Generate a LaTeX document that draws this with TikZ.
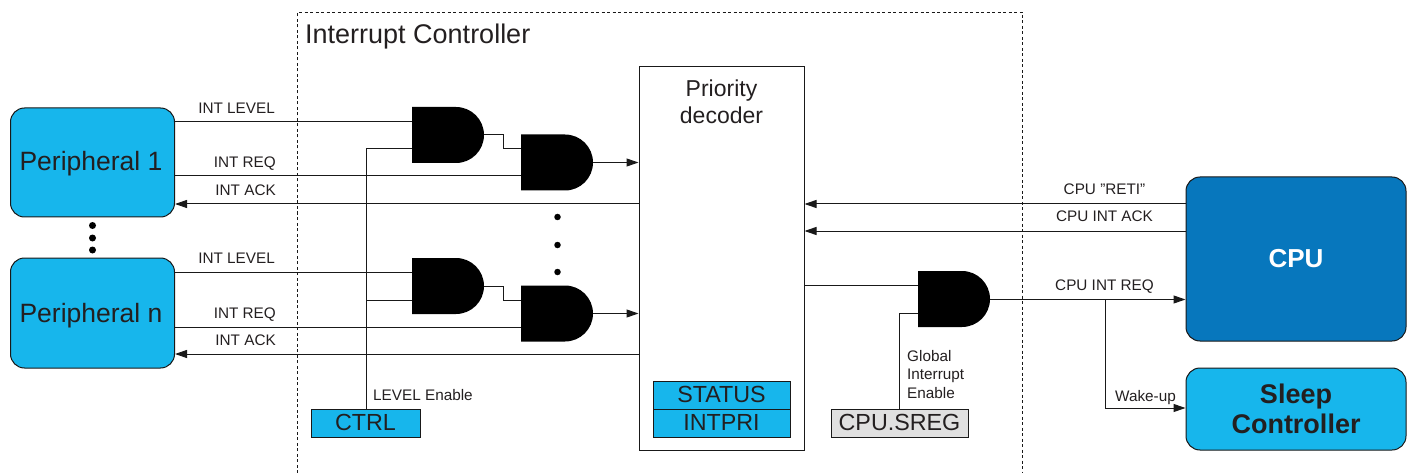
\documentclass[tikz,border=0pt]{standalone}
\usepackage{fontspec}
\setmainfont{Liberation Sans}
\usetikzlibrary{arrows.meta,calc}
\definecolor{lightblue}{HTML}{17B6EC}
\definecolor{darkblue}{HTML}{0777BD}
\definecolor{regray}{HTML}{E0E0E0}
\definecolor{ink}{HTML}{231F20}
\newcommand{\fs}[1]{\fontsize{#1}{#1}\selectfont}
\tikzset{
  wire/.style={line width=1pt,black!90},
  arrowwire/.style={wire,-{Triangle[length=12pt,width=8pt]}},
  lbl/.style={text=ink,inner sep=0pt,font=\fs{15.3}},
  lblr/.style={lbl,anchor=base east},
  lbll/.style={lbl,anchor=base west},
  lblc/.style={lbl,anchor=base},
  rblock/.style={draw=black!90,line width=1pt,rounded corners=14pt,fill=lightblue,inner sep=0pt,text=ink},
  reg/.style={draw=black!90,line width=1pt,fill=lightblue,inner sep=0pt,minimum height=28pt,text=ink,font=\fs{23.3},text height=14pt,text depth=0pt},
  gatebox/.style={minimum width=72pt,minimum height=56pt,inner sep=0pt,
    path picture={\fill[black] (path picture bounding box.north west) -- ++(44,0)
      arc[start angle=90,end angle=-90,radius=28pt] -- (path picture bounding box.south west) -- cycle;}},
  dot/.style={circle,fill=black,inner sep=0pt,minimum size=7pt},
}
\begin{document}
\begin{tikzpicture}[x=1pt,y=-1pt]
\useasboundingbox (0,0) rectangle (1413,473);
% frame of the controller, open at the bottom
\coordinate (fa) at (297.5,473); \coordinate (fb) at (297.5,12.5);
\coordinate (fc) at (1022.5,12.5); \coordinate (fd) at (1022.5,473);
\draw[line width=1pt,black!90,dash pattern=on 3pt off 2.5pt] (fa) -- (fb) -- (fc) -- (fd);
\node[lbll,font=\fs{27}] (title) at (305,44) {Interrupt Controller};
% blocks
\node[rblock,minimum width=164pt,minimum height=109pt,font=\fs{26.5},text height=17pt,text depth=0pt] (p1) at (92.5,162.5) {\hspace*{-3pt}Peripheral 1};
\node[rblock,minimum width=164pt,minimum height=110pt,font=\fs{26.5},text height=18pt,text depth=0pt] (pn) at (92.5,313) {\hspace*{-3pt}Peripheral n};
\node[rblock,fill=darkblue,minimum width=220pt,minimum height=164pt,text=white,font=\fs{26}\bfseries] (cpu) at (1296,259) {CPU};
\node[rblock,minimum width=220pt,minimum height=82pt,align=center,font=\fs{27}\bfseries] (sleep) at (1296,409) {Sleep\\[3pt]Controller};
\node[draw=black!90,line width=1pt,minimum width=165pt,minimum height=383pt,inner sep=0pt] (dec) at (721.5,258.5) {};
\node[lblc,font=\fs{23},align=center] (dect) at (721.5,123.5) {Priority\\[4pt]decoder};
\node[reg,minimum width=137pt] (status) at (721.5,395) {STATUS};
\node[reg,minimum width=137pt] (intpri) at (721.5,423) {INTPRI};
\node[reg,minimum width=109pt] (ctrl) at (365.5,423) {CTRL};
\node[reg,minimum width=137pt,fill=regray] (sreg) at (899.5,423) {CPU.SREG};
% gates
\node[gatebox] (g1) at (448,135) {};
\node[gatebox] (g2) at (557,162.5) {};
\node[gatebox] (g3) at (448,286) {};
\node[gatebox] (g4) at (557,313.5) {};
\node[gatebox] (g5) at (954,299) {};
% helper coordinates
\coordinate (c1) at (175,121.5); \coordinate (g1a) at (412,121.5); \coordinate (g1b) at (412,149);
\coordinate (c2) at (175,176); \coordinate (g2b) at (521,176); \coordinate (g2a) at (521,149);
\coordinate (c3) at (175,272); \coordinate (g3a) at (412,272); \coordinate (g3b) at (412,300);
\coordinate (c4) at (175,327); \coordinate (g4b) at (521,327); \coordinate (g4a) at (521,300);
\coordinate (m1) at (503,135); \coordinate (m1b) at (503,149);
\coordinate (m2) at (503,286); \coordinate (m2b) at (503,300);
\coordinate (vbend) at (366.5,149);
% inputs and cascades
\draw[wire] (c1) -- (g1a);
\draw[wire] (c2) -- (g2b);
\draw[wire] (c3) -- (g3a);
\draw[wire] (c4) -- (g4b);
\draw[wire] (g1b) -- (vbend) -- (vbend |- ctrl.north);
\draw[wire] (g3b) -- (vbend |- g3b);
\draw[wire] (484,135) -- (m1) -- (m1b) -- (g2a);
\draw[wire] (484,286) -- (m2) -- (m2b) -- (g4a);
% gate outputs to decoder
\draw[arrowwire] (593,162.5) -- (dec.west |- g2);
\draw[arrowwire] (593,313.5) -- (dec.west |- g4);
% acks
\draw[arrowwire] (dec.west |- 0,204) -- (p1.east |- 0,204);
\draw[arrowwire] (dec.west |- 0,354) -- (pn.east |- 0,354);
% CPU side
\draw[arrowwire] (cpu.west |- 0,204) -- (dec.east |- 0,204);
\draw[arrowwire] (cpu.west |- 0,231) -- (dec.east |- 0,231);
\coordinate (g5a) at (918,285.5); \coordinate (g5b) at (918,313);
\coordinate (g5bend) at (899,313); \coordinate (br) at (1105,299.5);
\draw[wire] (dec.east |- g5a) -- (g5a);
\draw[wire] (g5b) -- (g5bend) -- (g5bend |- sreg.north);
\draw[arrowwire] (990,299.5) -- (cpu.west |- 0,299.5);
\draw[arrowwire] (br) -- (br |- 0,408) -- (sleep.west |- 0,408);
% dots
\node[dot] (d1) at (92.5,225.5) {};
\node[dot] (d2) at (92.5,238) {};
\node[dot] (d3) at (92.5,250) {};
\node[dot,minimum size=6.5pt] (d4) at (557.5,217) {};
\node[dot,minimum size=6.5pt] (d5) at (557.5,245) {};
\node[dot,minimum size=6.5pt] (d6) at (557.5,272) {};
% labels
\node[lblr] (l1) at (275,113.5) {INT LEVEL};
\node[lblr] (l2) at (276,167.5) {INT REQ};
\node[lblr] (l3) at (276,195.5) {INT ACK};
\node[lblr] (l4) at (275,263) {INT LEVEL};
\node[lblr] (l5) at (276,318) {INT REQ};
\node[lblr] (l6) at (276,345) {INT ACK};
\node[lbll] (l7) at (373,400) {LEVEL Enable};
\node[lbll] (l8) at (907,361) {Global};
\node[lbll] (l9) at (907,379) {Interrupt};
\node[lbll] (l10) at (907,398) {Enable};
\node[lblc] (l11) at (1104.5,195) {CPU ”RETI”};
\node[lblc] (l12) at (1104.5,222) {CPU INT ACK};
\node[lblc] (l13) at (1104.5,290) {CPU INT REQ};
\node[lblc] (l14) at (1145.5,401) {Wake-up};
\end{tikzpicture}
\end{document}
